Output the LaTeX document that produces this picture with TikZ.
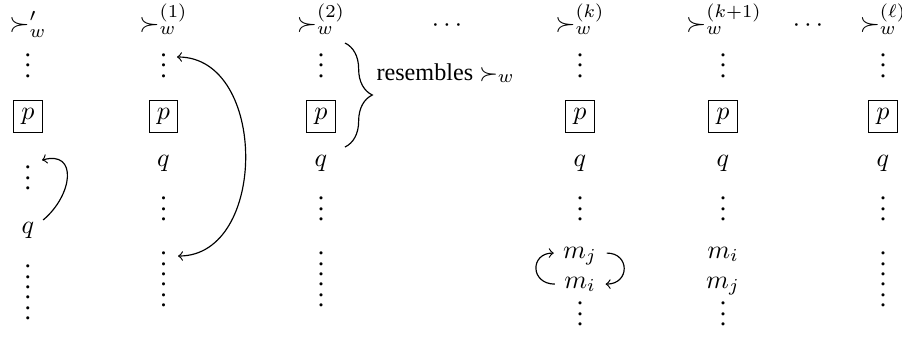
\documentclass[tikz,border=0pt]{standalone}
\usepackage[no-math]{fontspec}
\setmainfont{Liberation Serif}
\usetikzlibrary{decorations.pathreplacing,calc}
\begin{document}
\begin{tikzpicture}[x=0.3846pt,y=-0.3846pt,
  lbl/.style={anchor=base,inner sep=0pt},
  vd/.style={anchor=base,inner sep=0pt},
  pbox/.style={draw,line width=0.4pt,inner sep=3pt},
  arc/.style={line width=0.45pt},
  bracestyle/.style={decorate,decoration={brace,amplitude=10.5pt},line width=0.45pt}]
\useasboundingbox (0,0) rectangle (902,337);
% column labels
\node[lbl] (L1)  at (28,31)    {$\succ'_w$};
\node[lbl] (L2)  at (163.5,31) {$\succ_w^{(1)}$};
\node[lbl] (L3)  at (321,31)   {$\succ_w^{(2)}$};
\node[lbl] (D1)  at (447,31)   {$\cdots$};
\node[lbl] (Lk)  at (580,31)   {$\succ_w^{(k)}$};
\node[lbl] (Lk1) at (724,31)   {$\succ_w^{(k+1)}$};
\node[lbl] (D2)  at (808,31)   {$\cdots$};
\node[lbl] (Ll)  at (883,31)   {$\succ_w^{(\ell)}$};
% first row of vdots
\foreach \n/\x in {v1a/28,v2a/163.5,v3a/321,vka/580,vk1a/723,vla/883}
  \node[vd] (\n) at (\x,77) {$\vdots$};
% p boxes
\foreach \n/\x in {p1/28,p2/163.5,p3/321,pk/580,pk1/723,pl/883}
  \node[pbox] (\n) at (\x,116.5) {$p$};
% q row
\foreach \n/\x in {q2/163.5,q3/321,qk/580,qk1/723,ql/883}
  \node[lbl] (\n) at (\x,166) {$q$};
% second row of vdots
\foreach \n/\x in {v2b/163.5,v3b/321,vkb/580,vk1b/723,vlb/883}
  \node[vd] (\n) at (\x,220.5) {$\vdots$};
% double vdots
\foreach \n/\x in {2/163.5,3/321,l/883}{
  \node[vd] (v\n c) at (\x,275.5) {$\vdots$};
  \node[vd] (v\n d) at (\x,306.5) {$\vdots$};
}
% first column
\node[vd]  (v1b) at (28,189.5) {$\vdots$};
\node[lbl] (q1)  at (28,233)   {$q$};
\node[vd]  (v1c) at (28,288.5) {$\vdots$};
\node[vd]  (v1d) at (28,319.5) {$\vdots$};
% column k
\node[lbl] (mj)  at (580,258)   {$m_j$};
\node[lbl] (mi)  at (580,288)   {$m_i$};
\node[vd]  (vkc) at (580,325.5) {$\vdots$};
% column k+1
\node[lbl] (mi2)  at (723,258)   {$m_i$};
\node[lbl] (mj2)  at (723,288)   {$m_j$};
\node[vd]  (vk1c) at (723,325.5) {$\vdots$};
% brace and its label
\coordinate (bt) at (345,43);
\coordinate (bb) at (345,147);
\draw[bracestyle] (bt) -- (bb);
\node[lbl,anchor=base west,font=\fontsize{9.3}{11}\selectfont] (res) at (376,80) {resembles $\succ_w$};
% arcs
\draw[arc,->] ([shift={(5.8pt,5pt)}]q1.base) .. controls (73,195) and (78,150) .. ([shift={(5.4pt,11.3pt)}]v1b.base);
\draw[arc,<->] ([shift={(5.2pt,7.7pt)}]v2a.base) .. controls (268,57) and (268,256) .. ([shift={(5.6pt,7.5pt)}]v2c.base);
\draw[arc,->] ([shift={(-3.4pt,1.5pt)}]mi.base west) .. controls (530,284) and (530,253) .. ([shift={(-3.4pt,1.9pt)}]mj.base west);
\draw[arc,->] ([shift={(3.6pt,1.9pt)}]mj.base east) .. controls (630,253) and (630,284) .. ([shift={(3.6pt,1.5pt)}]mi.base east);
\end{tikzpicture}
\end{document}
